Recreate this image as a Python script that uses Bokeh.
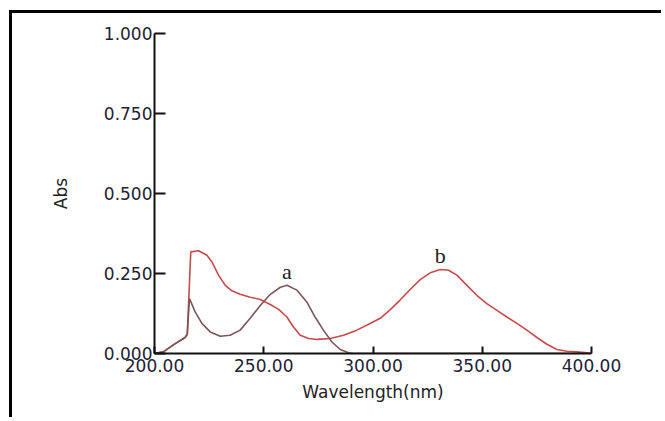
import numpy as np
from bokeh.plotting import figure
from bokeh.models import Range1d, FixedTicker, NumeralTickFormatter, ColumnDataSource
from bokeh.core.properties import value
from bokeh.embed import file_html
from bokeh.resources import INLINE

# ---- data ----
wl_b = [200, 204, 209.5, 214, 215, 216.6, 220.1, 224, 226.3, 229.3, 232.4, 235.4,
        239.2, 243.8, 248.4, 253, 256.8, 260.6, 263.6, 266.7, 270.5, 274.3, 280.4,
        286.5, 292.6, 298.7, 303.3, 307.9, 312.4, 317, 321.6, 326.2, 330.8, 334.6,
        338.4, 343, 347.5, 352.1, 356.7, 361.3, 365.9, 370.4, 375, 379.6, 384.2,
        388.7, 393.3, 397.9, 400]
abs_b = [0.0, 0.005, 0.031, 0.05, 0.06, 0.3175, 0.321, 0.307, 0.286, 0.245, 0.213, 0.196,
         0.185, 0.176, 0.169, 0.153, 0.138, 0.114, 0.083, 0.057, 0.047, 0.044, 0.047,
         0.057, 0.073, 0.094, 0.11, 0.137, 0.167, 0.2, 0.231, 0.252, 0.2625, 0.26,
         0.245, 0.213, 0.182, 0.156, 0.135, 0.114, 0.094, 0.073, 0.05, 0.029, 0.0125,
         0.007, 0.005, 0.002, 0.0]

wl_a = [200, 204, 209.5, 214, 215, 216, 218.6, 221.7, 225.5, 230.1, 234.6, 239.2,
        243.8, 248.4, 253, 257.6, 260.6, 265.2, 269.7, 273.5, 277.3, 281.2, 285,
        288.8, 291, 400]
abs_a = [0.0, 0.005, 0.031, 0.05, 0.06, 0.172, 0.13, 0.094, 0.0675, 0.054, 0.057, 0.073,
         0.11, 0.15, 0.185, 0.207, 0.213, 0.198, 0.161, 0.114, 0.073, 0.036, 0.0125,
         0.002, 0.0, 0.0]

series_names = ["a", "b"]
peak_wl = [260.6, 330.8]          # labelled absorption maxima
x_ticks = [200, 250, 300, 350, 400]
y_ticks = [0.0, 0.25, 0.5, 0.75, 1.0]
label_offset = 0.043

p = figure(width=652, height=407,
           x_range=Range1d(200, 400), y_range=Range1d(0, 1.0),
           output_backend="svg", toolbar_location=None,
           min_border_left=142, min_border_right=73,
           min_border_top=20, min_border_bottom=67)
p.styles = {"margin-top": "10px", "margin-left": "9px",
            "border-top": "3px solid #000", "border-left": "3px solid #000"}
p.grid.visible = False
p.outline_line_color = None
p.background_fill_color = "white"
p.border_fill_color = "white"

p.line(wl_b, abs_b, line_color="#c84a4a", line_width=1.6)
p.line(wl_a, abs_a, line_color="#7a5656", line_width=1.6)

# peak labels, placed just above each labelled maximum
peak_abs = [float(np.interp(peak_wl[0], wl_a, abs_a)),
            float(np.interp(peak_wl[1], wl_b, abs_b))]
lab = ColumnDataSource(dict(x=peak_wl,
                            y=[v + label_offset for v in peak_abs],
                            t=series_names))
p.text(x="x", y="y", text="t", source=lab, text_font=value("Liberation Serif"),
       text_font_size="22px", text_align="center", text_baseline="alphabetic",
       text_color="#222222")

font = "DejaVu Sans"
for ax in (p.xaxis[0], p.yaxis[0]):
    ax.axis_line_color = "#111111"
    ax.axis_line_width = 2
    ax.major_tick_line_color = "#111111"
    ax.major_tick_line_width = 2
    ax.minor_tick_line_color = None
    ax.major_tick_out = 0
    ax.major_label_text_font = font
    ax.major_label_text_font_size = "17px"
    ax.major_label_text_color = "#222233"
    ax.axis_label_text_font = font
    ax.axis_label_text_font_size = "17px"
    ax.axis_label_text_font_style = "normal"
    ax.axis_label_text_color = "#222222"

p.xaxis[0].ticker = FixedTicker(ticks=x_ticks)
p.xaxis[0].formatter = NumeralTickFormatter(format="0.00")
p.xaxis[0].major_tick_in = 7
p.xaxis[0].major_label_standoff = 5
p.xaxis[0].axis_label = "Wavelength(nm)"
p.xaxis[0].axis_label_standoff = 7

p.yaxis[0].ticker = FixedTicker(ticks=y_ticks)
p.yaxis[0].formatter = NumeralTickFormatter(format="0.000")
p.yaxis[0].major_tick_in = 11
p.yaxis[0].major_label_standoff = 2
p.yaxis[0].axis_label = "Abs"
p.yaxis[0].axis_label_standoff = 30

open("out.html", "w").write(file_html(p, INLINE))
